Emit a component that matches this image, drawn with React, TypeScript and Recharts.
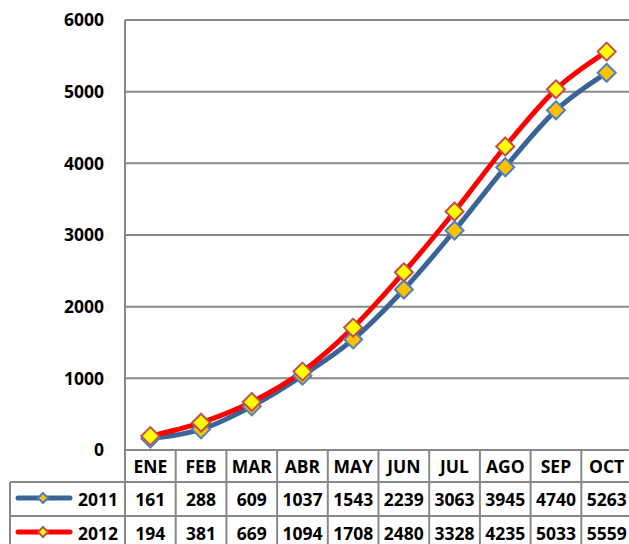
import { LineChart, Line, XAxis, YAxis, CartesianGrid } from 'recharts';

const months = ['ENE', 'FEB', 'MAR', 'ABR', 'MAY', 'JUN', 'JUL', 'AGO', 'SEP', 'OCT'];
const ventas2011 = [161, 288, 609, 1037, 1543, 2239, 3063, 3945, 4740, 5263];
const ventas2012 = [194, 381, 669, 1094, 1708, 2480, 3328, 4235, 5033, 5559];
const yTicks = [0, 1000, 2000, 3000, 4000, 5000, 6000];

const series = [
  { key: 'y2011', name: '2011', values: ventas2011, line: '#3A6497', fill: '#FFC000', border: '#4F81BD' },
  { key: 'y2012', name: '2012', values: ventas2012, line: '#FF0000', fill: '#FFFF00', border: '#C0504D' },
];

const data = months.map((m, i) => ({ mes: m, y2011: ventas2011[i], y2012: ventas2012[i] }));

// layout
const CHART_W = 632;
const CHART_H = 544;
const AXIS_W = 125;
const COL_W = (CHART_W - AXIS_W) / months.length;
const GRID = '#888888';
const FONT = '"Open Sans", sans-serif';
const FONT_SIZE = 17.5;

const Diamond = ({ cx, cy, fill, stroke, r }: any) => {
  if (cx == null || cy == null) return null;
  return (
    <polygon
      points={`${cx},${cy - r} ${cx + r},${cy} ${cx},${cy + r} ${cx - r},${cy}`}
      fill={fill}
      stroke={stroke}
      strokeWidth={2}
    />
  );
};

const TableTick = ({ x, y, payload }: any) => {
  const i = payload.index;
  const left = x - COL_W / 2;
  const right = x + COL_W / 2;
  const textProps = { fontFamily: FONT, fontWeight: 700, fontSize: FONT_SIZE, fill: '#000', textAnchor: 'middle' as const };
  return (
    <g>
      <line x1={left} y1={y} x2={left} y2={y + 100} stroke={GRID} strokeWidth={2} />
      <line x1={left} y1={y + 32} x2={right} y2={y + 32} stroke={GRID} strokeWidth={2} />
      <line x1={left} y1={y + 66} x2={right} y2={y + 66} stroke={GRID} strokeWidth={2} />
      <text x={x} y={y + 16.5} dy="0.35em" {...textProps}>{payload.value}</text>
      <text x={x} y={y + 49.5} dy="0.35em" {...textProps}>{ventas2011[i]}</text>
      <text x={x} y={y + 84} dy="0.35em" {...textProps}>{ventas2012[i]}</text>
      {i === 0 && (
        <g>
          <line x1={10} y1={y + 32} x2={left} y2={y + 32} stroke={GRID} strokeWidth={2} />
          <line x1={10} y1={y + 66} x2={left} y2={y + 66} stroke={GRID} strokeWidth={2} />
          <line x1={10} y1={y + 32} x2={10} y2={y + 100} stroke={GRID} strokeWidth={2} />
          {series.map((s, k) => {
            const cy = y + (k === 0 ? 48 : 82);
            return (
              <g key={s.key}>
                <line x1={18} y1={cy} x2={70} y2={cy} stroke={s.line} strokeWidth={5} strokeLinecap="round" />
                <Diamond cx={43} cy={cy} r={5} fill={s.fill} stroke={s.border} />
                <text x={118} y={cy + 1.5} dy="0.35em" {...textProps} textAnchor="end">{s.name}</text>
              </g>
            );
          })}
        </g>
      )}
    </g>
  );
};

export default function App() {
  return (
    <div style={{ position: 'absolute', left: 0, top: 0, width: 629, height: 544, overflow: 'hidden', background: '#fff' }}>
      <LineChart width={CHART_W} height={CHART_H} data={data} margin={{ top: 20, right: 0, bottom: 0, left: 0 }}>
        <CartesianGrid vertical={false} stroke={GRID} strokeWidth={2} />
        <XAxis
          dataKey="mes"
          height={94}
          axisLine={false}
          tickLine={false}
          tickSize={0}
          tickMargin={0}
          interval={0}
          padding={{ left: COL_W / 2, right: COL_W / 2 }}
          tick={<TableTick />}
        />
        <YAxis
          width={AXIS_W}
          domain={[0, 6000]}
          ticks={yTicks}
          interval={0}
          axisLine={{ stroke: GRID, strokeWidth: 2 }}
          tickLine={false}
          tickSize={0}
          tickMargin={21}
          tick={{ fontFamily: FONT, fontWeight: 700, fontSize: FONT_SIZE, fill: '#000' }}
        />
        {series.map((s) => (
          <Line
            key={s.key}
            type="monotone"
            dataKey={s.key}
            name={s.name}
            stroke={s.line}
            strokeWidth={5}
            isAnimationActive={false}
            dot={(p: any) => <Diamond key={`${s.key}-${p.index}`} cx={p.cx} cy={p.cy} r={9} fill={s.fill} stroke={s.border} />}
            activeDot={false}
          />
        ))}
      </LineChart>
    </div>
  );
}
